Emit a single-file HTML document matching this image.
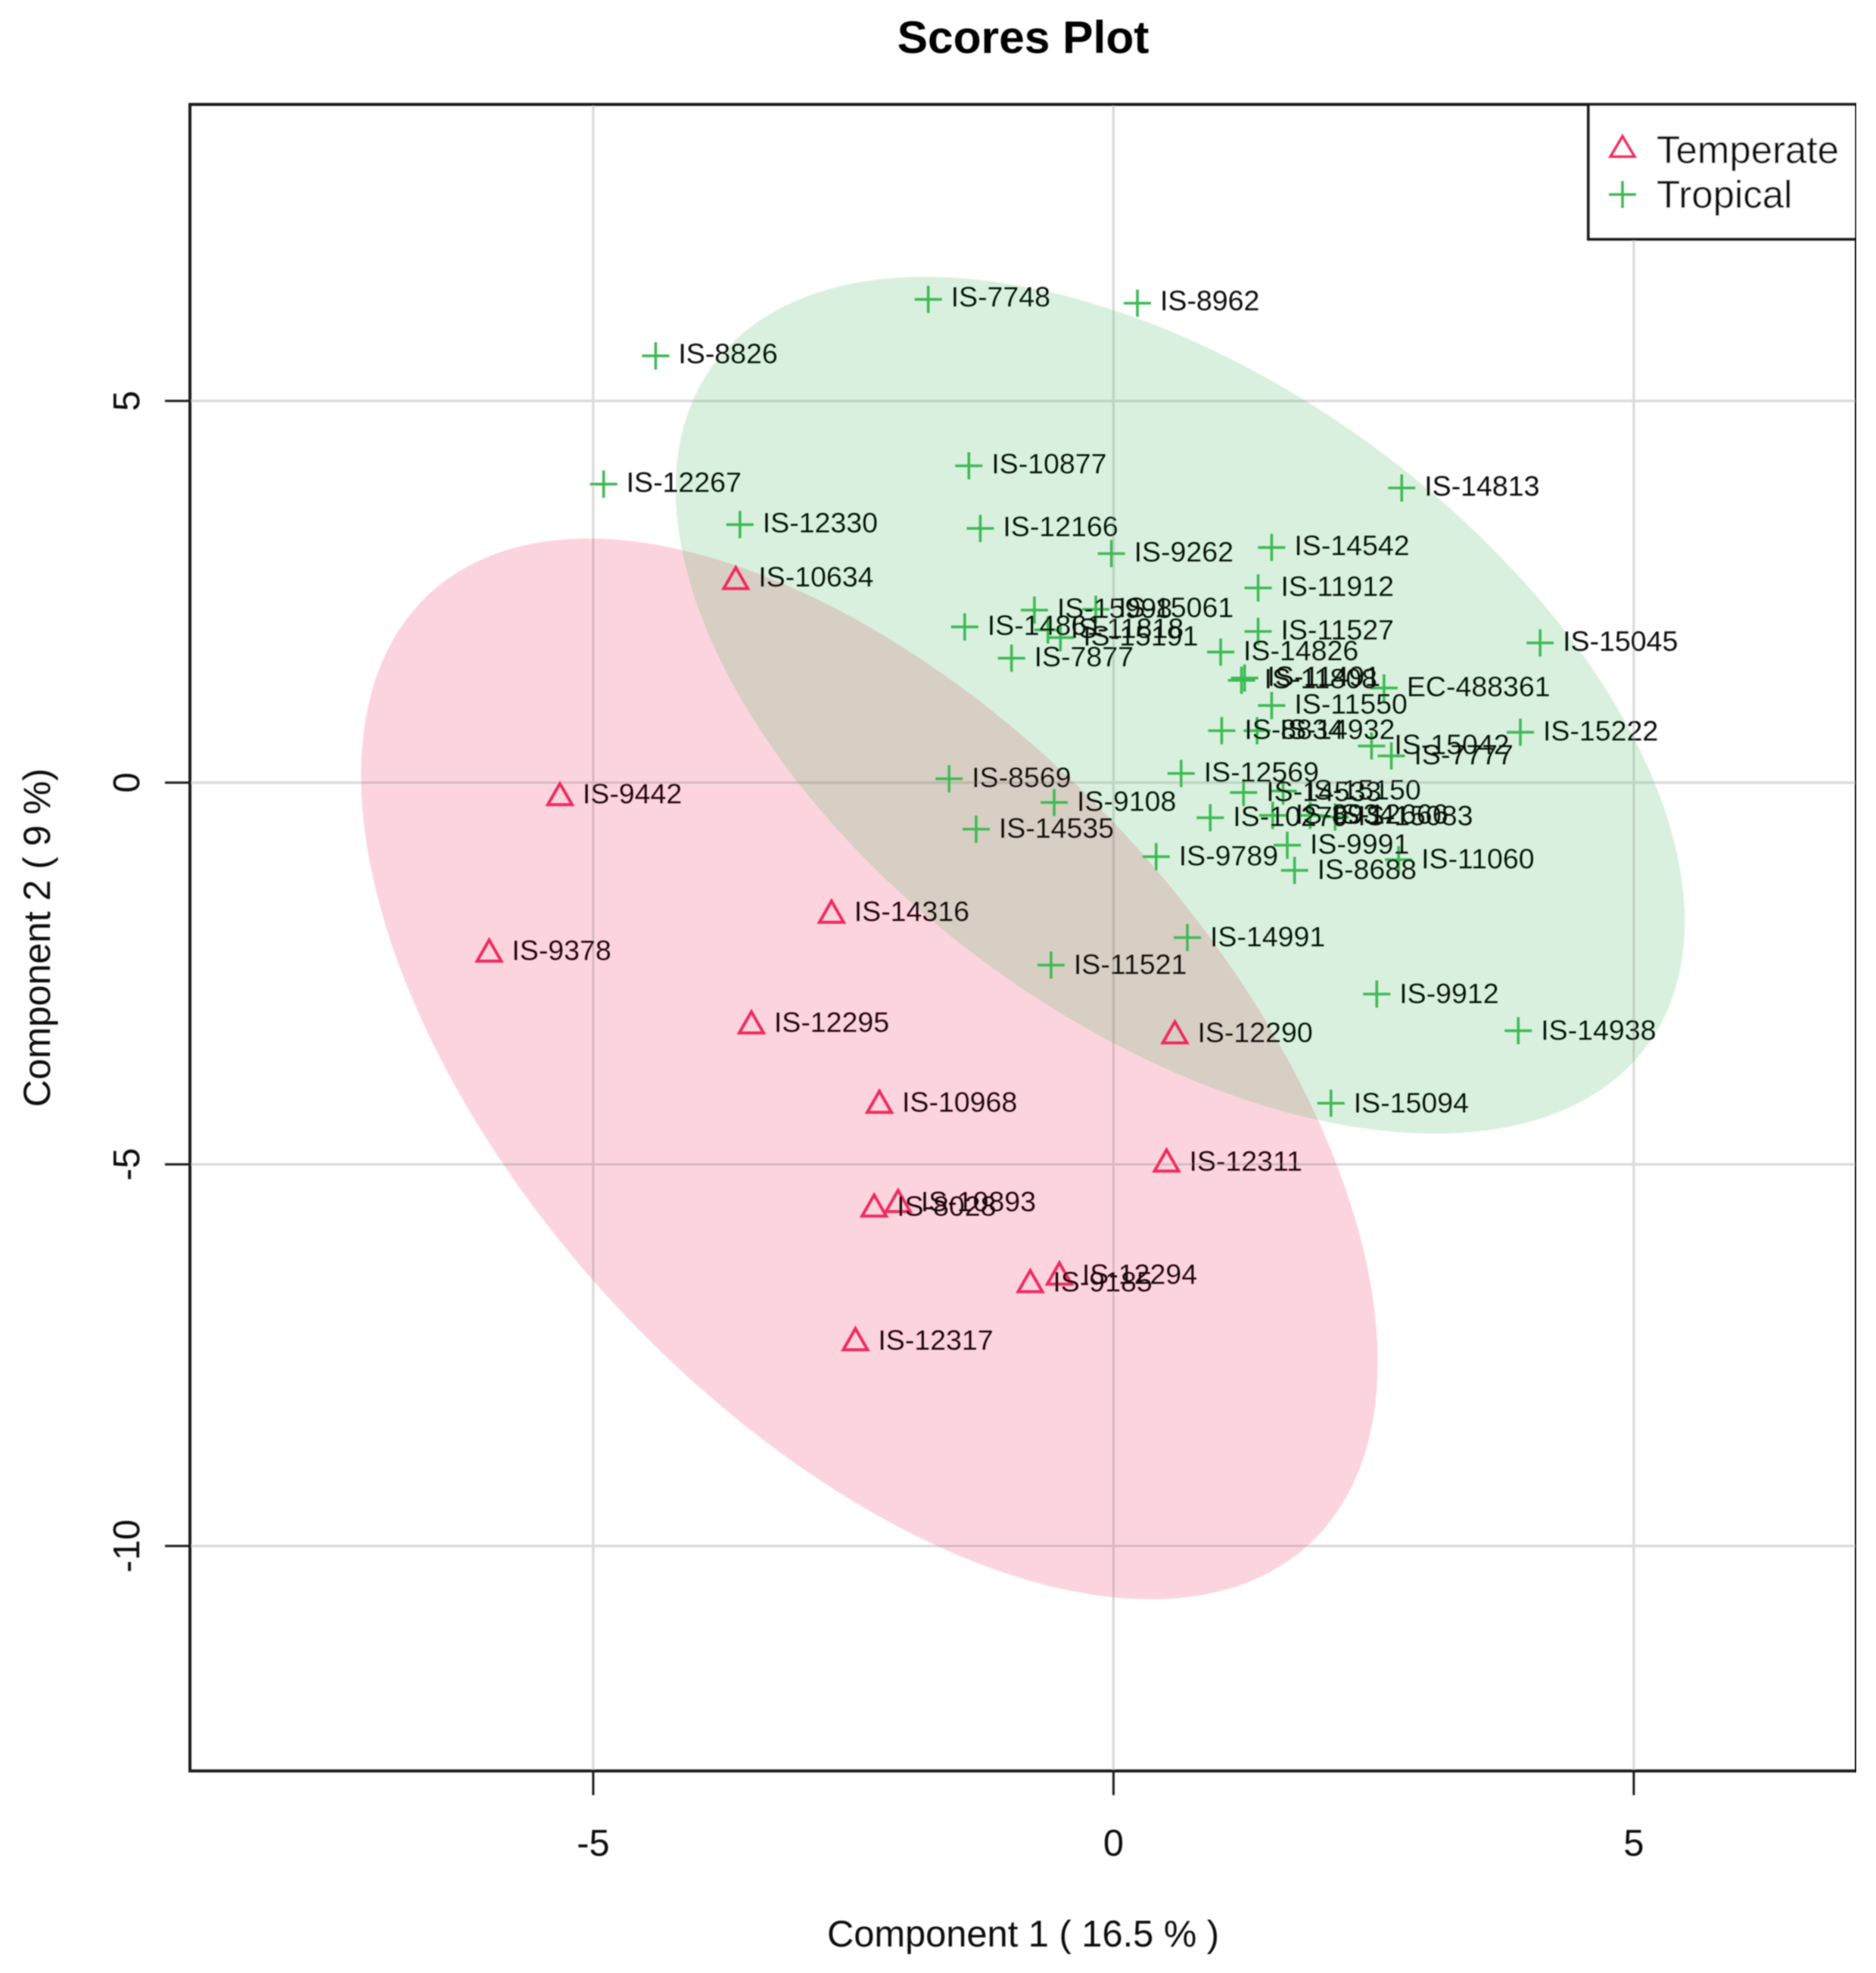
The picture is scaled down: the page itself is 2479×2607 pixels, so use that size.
<!DOCTYPE html>
<html lang="en">
<head>
<meta charset="utf-8">
<title>Scores Plot</title>
<style>
html,body{margin:0;padding:0;background:#fff;}
svg{display:block;font-family:"Liberation Sans",Arial,sans-serif;}
</style>
</head>
<body>
<svg id="chart" xmlns="http://www.w3.org/2000/svg" width="2479" height="2607" viewBox="0 0 2479 2607">
  <defs><filter id="soft" x="0" y="0" width="100%" height="100%"><feGaussianBlur stdDeviation="0.7"/></filter></defs>
  <rect x="0" y="0" width="2479" height="2607" fill="#fff"/>
  <g id="root" filter="url(#soft)">
    <g id="grid"></g>
    <g id="ellipses"></g>
    <g id="marks"></g>
    <g id="labels"></g>
    <rect x="251" y="138" width="2202" height="2202" fill="none" stroke="#1a1a1a" stroke-width="4"/>
    <g id="axes"></g>
    <text x="1352" y="49" font-size="60.5" font-weight="bold" text-anchor="middle" dominant-baseline="central" fill="#000">Scores Plot</text>
    <text x="1352" y="2556" font-size="48.8" text-anchor="middle" dominant-baseline="central" fill="#111">Component 1 ( 16.5 % )</text>
    <text transform="translate(49 1239) rotate(-90)" font-size="50" text-anchor="middle" dominant-baseline="central" fill="#111">Component 2 ( 9 %)</text>
    <g>
      <rect x="2099" y="138" width="354" height="178" fill="#fff" stroke="#1a1a1a" stroke-width="4"/>
      <polygon points="2144,180 2160,207 2128,207" fill="none" stroke="#EE2A5F" stroke-width="4"/>
      <text x="2189" y="198" font-size="51" dominant-baseline="central" fill="#111">Temperate</text>
      <path d="M2126 257H2162M2144 239V275" fill="none" stroke="#3CBA54" stroke-width="4"/>
      <text x="2189" y="257" font-size="51" dominant-baseline="central" fill="#111">Tropical</text>
    </g>
  </g>
</svg>
<script>
const xTicks = [-5, 0, 5];
const yTicks = [5, 0, -5, -10];

const temperateNames = ["IS-10634","IS-9442","IS-9378","IS-14316","IS-12295","IS-10968","IS-12290","IS-12311","IS-10893","IS-8028","IS-12294","IS-9185","IS-12317"];
const temperateX = [-3.63,-5.32,-6.00,-2.71,-3.48,-2.25,0.59,0.51,-2.07,-2.30,-0.52,-0.80,-2.48];
const temperateY = [2.67,-0.16,-2.21,-1.70,-3.15,-4.19,-3.28,-4.96,-5.49,-5.55,-6.44,-6.54,-7.30];

const tropicalNames = ["IS-7748","IS-8962","IS-8826","IS-10877","IS-14813","IS-12267","IS-12330","IS-12166","IS-9262","IS-14542","IS-11912","IS-15998","IS-15061","IS-14861","IS-11818","IS-15191","IS-11527","IS-14826","IS-7877","IS-15045","IS-11808","IS-11491","EC-488361","IS-11550","IS-8834","IS-14932","IS-15042","IS-7777","IS-15222","IS-12569","IS-8569","IS-9108","IS-14535","IS-14533","IS-15150","IS-10279","IS-8934","IS-12666","IS-15083","IS-9991","IS-9789","IS-11060","IS-8688","IS-14991","IS-11521","IS-9912","IS-14938","IS-15094"];
const tropicalX = [-1.78,0.23,-4.40,-1.39,2.77,-4.90,-3.59,-1.28,-0.02,1.52,1.39,-0.76,-0.17,-1.43,-0.63,-0.51,1.39,1.03,-0.98,4.10,1.23,1.26,2.60,1.52,1.04,1.38,2.48,2.67,3.91,0.65,-1.58,-0.57,-1.32,1.25,1.63,0.93,1.53,1.89,2.13,1.67,0.41,2.74,1.74,0.71,-0.60,2.53,3.89,2.09];
const tropicalY = [6.33,6.28,5.59,4.15,3.86,3.91,3.38,3.33,3.00,3.08,2.55,2.26,2.27,2.04,2.00,1.90,1.98,1.71,1.63,1.83,1.34,1.37,1.24,1.01,0.68,0.68,0.48,0.35,0.66,0.12,0.05,-0.26,-0.61,-0.13,-0.11,-0.46,-0.43,-0.43,-0.45,-0.82,-0.97,-1.01,-1.15,-2.03,-2.39,-2.77,-3.25,-4.20];

const temperateEllipse = [-2.346, -3.75, 4.885, 6.947, -0.553];
const tropicalEllipse = [0.641, 1.014, 4.849, 5.612, -0.505];

const SVG = "http://www.w3.org/2000/svg";
const scaleX = v => 1471.4 + v * 137.5;
const scaleY = v => 1034.1 - v * 100.87;
function el(tag, parent, attrs) {
  const e = document.createElementNS(SVG, tag);
  for (const k in attrs) e.setAttribute(k, attrs[k]);
  parent.appendChild(e);
  return e;
}
const gridG = document.getElementById("grid");
const axesG = document.getElementById("axes");
const ellG = document.getElementById("ellipses");
const marksG = document.getElementById("marks");
const labelsG = document.getElementById("labels");

xTicks.forEach(v => {
  const px = scaleX(v);
  const g = el("line", gridG, {x1: px, x2: px, y1: 138, y2: 2339, stroke: "#dcdcdc", "stroke-width": 3.5});
  
  
  const t = el("line", axesG, {x1: px, x2: px, y1: 2340, y2: 2372, stroke: "#1a1a1a", "stroke-width": 3});
  
  
  const l = el("text", axesG, {x: px, y: 2436, "font-size": 48.7, "text-anchor": "middle", "dominant-baseline": "central", fill: "#111"});
  
  
  l.textContent = v;
});
yTicks.forEach(v => {
  const py = scaleY(v);
  const g = el("line", gridG, {x1: 251, x2: 2453, y1: py, y2: py, stroke: "#dcdcdc", "stroke-width": 3.5});
  
  
  const t = el("line", axesG, {x1: 218, x2: 251, y1: py, y2: py, stroke: "#1a1a1a", "stroke-width": 3});
  
  
  const l = el("text", axesG, {transform: "translate(168 " + py + ") rotate(-90)", "font-size": 48.7, "text-anchor": "middle", "dominant-baseline": "central", fill: "#111"});
  
  
  l.textContent = v;
});

function ellipsePath(p) {
  const phi = Math.acos(p[4]);
  let d = "";
  for (let i = 0; i < 180; i++) {
    const t = i / 180 * 2 * Math.PI;
    const px = scaleX(p[0] + p[2] * Math.cos(t));
    const py = scaleY(p[1] + p[3] * Math.cos(t + phi));
    d += (i ? "L" : "M") + px.toFixed(1) + " " + py.toFixed(1);
  }
  return d + "Z";
}
const e1 = el("path", ellG, {d: ellipsePath(temperateEllipse), fill: "rgba(236,36,84,0.2)"});


const e2 = el("path", ellG, {d: ellipsePath(tropicalEllipse), fill: "rgba(72,180,92,0.2)"});



function addLabel(name, px, py) {
  const lift = Math.max(0, 3.5 * (1800 - py) / 1400);
  const l = el("text", labelsG, {x: px + 30, y: py - lift, "font-size": 37.5, "dominant-baseline": "central", fill: "#111"});
  
  
  l.textContent = name;
}
temperateNames.forEach((n, i) => {
  const px = scaleX(temperateX[i]), py = scaleY(temperateY[i]);
  const m = el("polygon", marksG, {points: px + "," + (py - 15) + " " + (px + 16) + "," + (py + 13) + " " + (px - 16) + "," + (py + 13), fill: "none", stroke: "#EE2A5F", "stroke-width": 4});
  
  
  addLabel(n, px, py);
});
tropicalNames.forEach((n, i) => {
  const px = scaleX(tropicalX[i]), py = scaleY(tropicalY[i]);
  const m = el("path", marksG, {d: "M" + (px - 18) + " " + py + "H" + (px + 18) + "M" + px + " " + (py - 18) + "V" + (py + 18), fill: "none", stroke: "#3CBA54", "stroke-width": 3.6});
  
  
  addLabel(n, px, py);
});
</script>
</body>
</html>
